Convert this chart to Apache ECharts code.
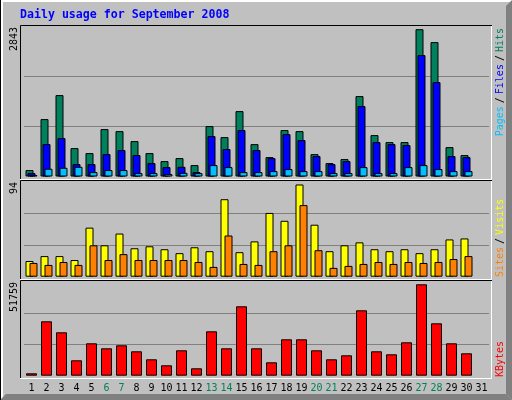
<!DOCTYPE html>
<html>
<head>
<meta charset="utf-8">
<script src="https://cdn.jsdelivr.net/npm/echarts@6/dist/echarts.min.js"></script>
<style>
  html, body { margin: 0; padding: 0; background: #c0c0c0; }
  #chart { width: 512px; height: 400px; }
</style>
</head>
<body>
<div id="chart"></div>
<script>
// values for September 2008
const days = Array.from({ length: 31 }, (_, i) => String(i + 1));
const weekendDays = ['6', '7', '13', '14', '20', '21', '27', '28'];

const hits = [124, 1108, 1571, 548, 452, 915, 876, 683, 452, 297, 355, 220, 973, 760, 1262, 625,
  374, 896, 876, 432, 259, 336, 1552, 799, 664, 664, 2843, 2594, 567, 413, 0];
const files = [66, 625, 741, 239, 239, 432, 510, 413, 259, 181, 187, 85, 780, 529, 896, 510,
  355, 818, 703, 394, 239, 297, 1359, 664, 625, 606, 2343, 1822, 394, 374, 0];
const pages = [27, 149, 168, 187, 85, 124, 124, 66, 66, 46, 71, 66, 220, 181, 85, 85,
  104, 143, 104, 104, 66, 66, 181, 66, 66, 181, 220, 143, 104, 104, 0];

const visits = [16, 21, 21, 17, 50, 32, 44, 29, 31, 28, 24, 30, 26, 79, 25, 36,
  65, 57, 94, 53, 26, 32, 35, 28, 26, 28, 24, 28, 38, 39, 0];
const sites = [14, 12, 15, 12, 32, 17, 23, 17, 17, 17, 17, 15, 10, 42, 13, 12,
  26, 32, 73, 27, 9, 11, 13, 15, 13, 15, 14, 15, 18, 21, 0];

const kbytes = [1359, 30807, 24577, 8721, 18348, 15517, 17216, 13818, 9287, 5890, 14384, 4191, 25144, 15517, 39301, 15517,
  7588, 20613, 20613, 14384, 9287, 11553, 37036, 13818, 12119, 18914, 51759, 29674, 18348, 12685, 0];

// a zero day gets no bar at all
const noZero = arr => arr.map(v => (v === 0 ? null : v));

const MONO = '"DejaVu Sans Mono", "Liberation Mono", monospace';

// webalizer puts the peak a bit below the panel top
const topMax = 2895, midMax = 96.85, botMax = 53062;

const chart = echarts.init(document.getElementById('chart'), null, { renderer: 'canvas' });

const yAxisBase = (idx, max) => ({
  gridIndex: idx,
  type: 'value',
  min: 0,
  max: max,
  interval: max / 3,
  axisLine: { show: false },
  axisTick: { show: false },
  axisLabel: { show: false },
  splitLine: { show: true, showMinLine: false, showMaxLine: false, lineStyle: { color: '#808080', width: 1 } }
});

const xAxisBase = (idx, showLabels) => ({
  gridIndex: idx,
  type: 'category',
  data: days,
  boundaryGap: true,
  axisLine: { show: false },
  axisTick: { show: false },
  splitLine: { show: false },
  axisLabel: {
    show: showLabels,
    interval: 0,
    margin: 8,
    fontFamily: MONO,
    fontSize: 10,
    color: (val) => (weekendDays.includes(val) ? '#00805c' : '#000000')
  }
});

const barStyle = color => ({ color: color, borderColor: '#000', borderWidth: 1 });

// 3d-ish frame around each panel: black top/left, white bottom/right
const frame = (y0, y1) => ([
  { type: 'polyline', shape: { points: [[20.5, y1], [20.5, y0 + 0.5], [492, y0 + 0.5]] }, style: { stroke: '#000', lineWidth: 1, fill: null }, z: 100 },
  { type: 'polyline', shape: { points: [[20, y1 + 0.5], [491.5, y1 + 0.5], [491.5, y0 + 1]] }, style: { stroke: '#fff', lineWidth: 1, fill: null }, z: 100 }
]);

const sideText = (x, y, align, text, rich) => ({
  type: 'text', x: x, y: y, rotation: Math.PI / 2, z: 100,
  style: { text: text, rich: rich, align: align, verticalAlign: 'middle', font: '10px ' + MONO, fill: '#000' }
});

const word = fill => ({ fontFamily: MONO, fontSize: 10, fill: fill });
const slash = { fontFamily: MONO, fontSize: 10, fill: '#000', padding: [0, 3] };

chart.setOption({
  backgroundColor: '#c0c0c0',
  animation: false,
  grid: [
    { left: 24, width: 465, top: 26.5, height: 150, outerBoundsMode: 'none' },
    { left: 24, width: 465, top: 181.7, height: 95, outerBoundsMode: 'none' },
    { left: 24, width: 465, top: 282, height: 93.7, outerBoundsMode: 'none' }
  ],
  xAxis: [xAxisBase(0, false), xAxisBase(1, false), xAxisBase(2, true)],
  yAxis: [yAxisBase(0, topMax), yAxisBase(1, midMax), yAxisBase(2, botMax)],
  series: [
    { name: 'Hits', type: 'bar', xAxisIndex: 0, yAxisIndex: 0, data: noZero(hits), barWidth: 8, barGap: '-75%', itemStyle: barStyle('#00805c') },
    { name: 'Files', type: 'bar', xAxisIndex: 0, yAxisIndex: 0, data: noZero(files), barWidth: 8, barGap: '-75%', itemStyle: barStyle('#0000ff') },
    { name: 'Pages', type: 'bar', xAxisIndex: 0, yAxisIndex: 0, data: noZero(pages), barWidth: 8, barGap: '-75%', itemStyle: barStyle('#00c0ff') },
    { name: 'Visits', type: 'bar', xAxisIndex: 1, yAxisIndex: 1, data: noZero(visits), barWidth: 8, barGap: '-50%', itemStyle: barStyle('#ffff00') },
    { name: 'Sites', type: 'bar', xAxisIndex: 1, yAxisIndex: 1, data: noZero(sites), barWidth: 8, barGap: '-50%', itemStyle: barStyle('#ff8000') },
    { name: 'KBytes', type: 'bar', xAxisIndex: 2, yAxisIndex: 2, data: noZero(kbytes), barWidth: 11, itemStyle: barStyle('#ff0000') }
  ],
  graphic: [
    // outer raised border
    { type: 'rect', shape: { x: 0, y: 0, width: 512, height: 2 }, style: { fill: '#fff' }, z: 90 },
    { type: 'rect', shape: { x: 0, y: 0, width: 3, height: 400 }, style: { fill: '#fff' }, z: 90 },
    { type: 'rect', shape: { x: 0, y: 0, width: 1, height: 400 }, style: { fill: '#000' }, z: 91 },
    { type: 'polygon', shape: { points: [[512, 0], [512, 400], [506, 394], [506, 6]] }, style: { fill: '#808080' }, z: 90 },
    { type: 'polygon', shape: { points: [[0, 400], [512, 400], [506, 394], [6, 394]] }, style: { fill: '#808080' }, z: 90 },
    ...frame(25, 179),
    ...frame(180, 279),
    ...frame(280, 378),
    // title
    { type: 'text', x: 20, y: 15, z: 100,
      style: { text: 'Daily usage for September 2008', font: 'bold 11.6px ' + MONO, fill: '#0000ff', verticalAlign: 'middle' } },
    // peak values at the top of each panel
    sideText(14.5, 27, 'right', String(Math.max(...hits)), {}),
    sideText(14.5, 182, 'right', String(Math.max(...visits)), {}),
    sideText(14.5, 282, 'right', String(Math.max(...kbytes)), {}),
    // legends down the right side
    sideText(500, 28, 'right', '{p|Pages}{s|/}{f|Files}{s|/}{h|Hits}', {
      p: word('#00c0ff'), f: word('#0000ff'), h: word('#00805c'), s: slash
    }),
    sideText(500, 277, 'left', '{a|Sites}{s|/}{b|Visits}', {
      a: word('#ff8000'), b: word('#ffff00'), s: slash
    }),
    sideText(500, 377, 'left', '{k|KBytes}', { k: word('#ff0000') })
  ]
});
</script>
</body>
</html>
